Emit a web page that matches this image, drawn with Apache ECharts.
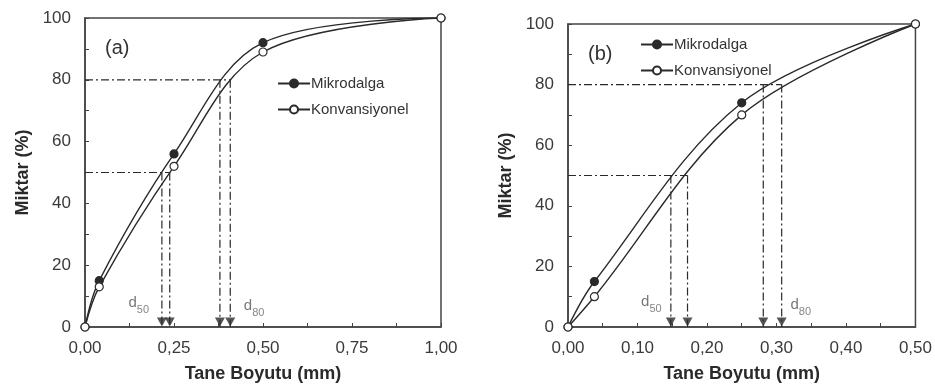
<!DOCTYPE html>
<html>
<head>
<meta charset="utf-8">
<script src="https://cdn.jsdelivr.net/npm/echarts@6/dist/echarts.min.js"></script>
<style>
  html, body { margin: 0; padding: 0; background: #fff; }
  #chart { width: 935px; height: 391px; }
</style>
</head>
<body>
<div id="chart"></div>
<script>
// panel (a)
const sizeA = [0, 0.04, 0.25, 0.5, 1];
const mikroA = [0, 15, 56, 92, 100];
const konvA = [0, 13, 52, 89, 100];
const d50A = [0.216, 0.238];
const d80A = [0.379, 0.408];

// panel (b)
const sizeB = [0, 0.038, 0.25, 0.5];
const mikroB = [0, 15, 74, 100];
const konvB = [0, 10, 70, 100];
const d50B = [0.148, 0.172];
const d80B = [0.281, 0.3075];

const levels = [50, 80];
const names = ["Mikrodalga", "Konvansiyonel"];
const labelPosA = [[0.151, 7], [0.475, 6]];
const labelPosB = [[0.12, 7.5], [0.335, 6.5]];

const ink = "#2a2a2a";
const dashDot = [8, 3, 2, 3];

const chart = echarts.init(document.getElementById("chart"), null, { renderer: "canvas" });

function pairs(xs, ys) {
  return xs.map((x, i) => [x, ys[i]]);
}

function comma(v) {
  return v.toFixed(2).replace(".", ",");
}

function curve(name, xs, ys, idx, open) {
  return {
    name,
    type: "line",
    xAxisIndex: idx,
    yAxisIndex: idx,
    data: pairs(xs, ys),
    smooth: 0.35,
    symbol: "circle",
    symbolSize: 8,
    showAllSymbol: true,
    z: open ? 4 : 3,
    lineStyle: { color: ink, width: 1.4 },
    itemStyle: {
      color: open ? "#fff" : ink,
      borderColor: ink,
      borderWidth: 1.2,
    },
    emphasis: { disabled: true },
  };
}

function guides(idx, d50, d80, labelPos) {
  const out = [];
  [d50, d80].forEach((ds, k) => {
    const lvl = levels[k];
    out.push({
      type: "line",
      xAxisIndex: idx,
      yAxisIndex: idx,
      data: [[0, lvl], [Math.max(...ds), lvl]],
      symbol: "none",
      lineStyle: { color: ink, width: 1.2, type: dashDot },
      z: 2,
      silent: true,
    });
    ds.forEach((d) => {
      out.push({
        type: "line",
        xAxisIndex: idx,
        yAxisIndex: idx,
        data: [[d, lvl], [d, 0]],
        symbol: "none",
        lineStyle: { color: ink, width: 1.2, type: dashDot },
        z: 2,
        silent: true,
      });
    });
  });
  out.push({
    type: "scatter",
    xAxisIndex: idx,
    yAxisIndex: idx,
    data: d50.concat(d80).map((d) => [d, 0]),
    symbol: "triangle",
    symbolRotate: 180,
    symbolSize: [10, 9],
    symbolOffset: [0, -5],
    itemStyle: { color: ink },
    z: 5,
    silent: true,
  });
  out.push({
    type: "scatter",
    xAxisIndex: idx,
    yAxisIndex: idx,
    data: labelPos.map((p, k) => ({ value: p, sub: String(levels[k]) })),
    symbolSize: 0,
    silent: true,
    label: {
      show: true,
      position: "inside",
      formatter: (p) => "{d|d}{s|" + p.data.sub + "}",
      rich: {
        d: { fontSize: 15, color: "#555", fontFamily: "Liberation Sans", verticalAlign: "top" },
        s: { fontSize: 11, color: "#666", fontFamily: "Liberation Sans", padding: [9, 0, 0, 0], verticalAlign: "top" },
      },
    },
  });
  return out;
}

function xAxis(idx, max, interval) {
  return {
    type: "value",
    gridIndex: idx,
    min: 0,
    max,
    interval,
    name: "Tane Boyutu (mm)",
    nameLocation: "middle",
    nameGap: 38,
    nameTextStyle: { fontSize: 18, fontWeight: "bold", color: ink, fontFamily: "Liberation Sans" },
    axisLine: { show: true, onZero: false, lineStyle: { color: "#444", width: 1.5 } },
    axisTick: { show: true, inside: true, length: 4, lineStyle: { color: "#444" } },
    minorTick: { show: true, splitNumber: 2, length: 4, lineStyle: { color: "#444" } },
    axisLabel: { fontSize: 17, color: "#3a3a3a", margin: 13, fontFamily: "Liberation Sans", formatter: comma },
    splitLine: { show: false },
  };
}

function yAxis(idx) {
  return {
    type: "value",
    gridIndex: idx,
    min: 0,
    max: 100,
    interval: 20,
    name: "Miktar (%)",
    nameLocation: "middle",
    nameGap: 53,
    nameTextStyle: { fontSize: 18, fontWeight: "bold", color: ink, fontFamily: "Liberation Sans" },
    axisLine: { show: true, onZero: false, lineStyle: { color: "#444", width: 1.5 } },
    axisTick: { show: true, inside: true, length: 4, lineStyle: { color: "#444" } },
    minorTick: { show: true, splitNumber: 2, length: 4, lineStyle: { color: "#444" } },
    axisLabel: { fontSize: 17, color: "#3a3a3a", margin: 14, fontFamily: "Liberation Sans" },
    splitLine: { show: false },
  };
}

function legend(left, top) {
  return {
    left,
    top,
    orient: "vertical",
    data: names,
    itemWidth: 32,
    itemHeight: 10,
    itemGap: 11,
    selectedMode: false,
    textStyle: { fontSize: 15, color: "#333", fontFamily: "Liberation Sans", padding: [0, 0, 0, -4] },
  };
}

chart.setOption({
  animation: false,
  backgroundColor: "#fff",
  title: [
    { text: "(a)", left: 100, top: 33, textStyle: { fontSize: 20, fontWeight: "normal", color: "#333", fontFamily: "Liberation Sans" } },
    { text: "(b)", left: 583, top: 39, textStyle: { fontSize: 20, fontWeight: "normal", color: "#333", fontFamily: "Liberation Sans" } },
  ],
  legend: [legend(272, 71), legend(635, 32)],
  grid: [
    { left: 85, right: 494, top: 18, bottom: 64, show: true, borderColor: "#444", borderWidth: 1.5 },
    { left: 568, right: 18, top: 24, bottom: 64, show: true, borderColor: "#444", borderWidth: 1.5 },
  ],
  xAxis: [xAxis(0, 1, 0.25), xAxis(1, 0.5, 0.1)],
  yAxis: [yAxis(0), yAxis(1)],
  series: [
    ...guides(0, d50A, d80A, labelPosA),
    ...guides(1, d50B, d80B, labelPosB),
    curve(names[0], sizeA, mikroA, 0, false),
    curve(names[1], sizeA, konvA, 0, true),
    curve(names[0], sizeB, mikroB, 1, false),
    curve(names[1], sizeB, konvB, 1, true),
  ],
});
</script>
</body>
</html>
